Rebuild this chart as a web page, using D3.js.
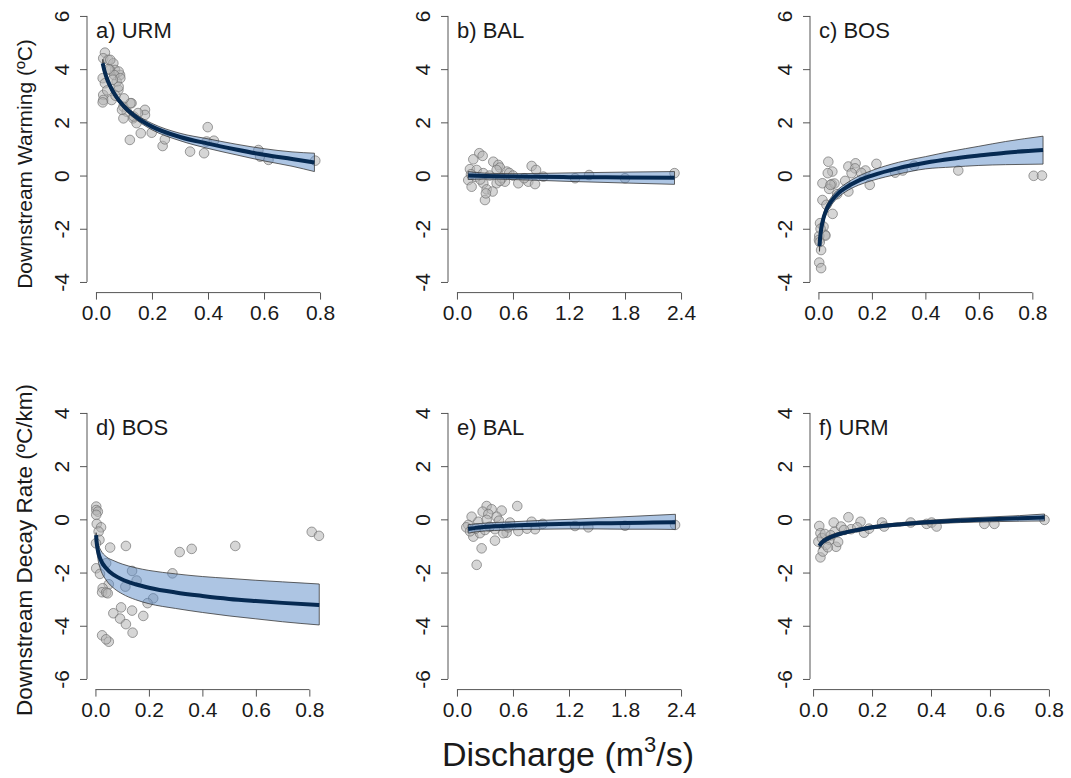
<!DOCTYPE html>
<html><head><meta charset="utf-8">
<script src="https://cdn.jsdelivr.net/npm/d3@7"></script>
<style>
body{margin:0;background:#fff;}
svg{display:block;}
text{font-family:"Liberation Sans",Arial,sans-serif;fill:#1a1a1a;}
</style>
</head><body>
<svg id="chart" width="1071" height="778"></svg>
<script>
// ---------- tick labels ----------
const xTicksSmall = [0, 0.2, 0.4, 0.6, 0.8];
const xTicksBig = [0, 0.6, 1.2, 1.8, 2.4];
const yTicksTop = [-4, -2, 0, 2, 4, 6];
const yTicksBottom = [-6, -4, -2, 0, 2, 4];
const panelLabels = ["a) URM", "b) BAL", "c) BOS", "d) BOS", "e) BAL", "f) URM"];
const yTitles = ["Downstream Warming (ºC)", "Downstream Decay Rate (ºC/km)"];

// ---------- a) URM warming ----------
const aQ = [0.032,0.026,0.044,0.062,0.068,0.05,0.086,0.024,0.032,0.074,0.08,0.026,0.026,0.056,0.024,0.098,0.127,0.11,0.175,0.175,0.098,0.133,0.145,0.121,0.16,0.199,0.238,0.246,0.336,0.386,0.399,0.395,0.421,0.58,0.586,0.616,0.783,0.081,0.065,0.087,0.081,0.051,0.123,0.135,0.093,0.04,0.07,0.15,0.06,0.1,0.045];
const aV = [4.62,4.41,4.35,4.22,3.97,3.97,3.78,3.66,3.47,3.53,3.22,3.03,2.84,2.84,2.75,2.59,2.72,2.40,2.47,2.28,2.15,2.15,1.97,1.34,1.59,1.61,1.11,1.36,0.90,0.84,1.82,1.28,1.31,0.96,0.71,0.59,0.56,3.91,3.78,3.66,3.34,4.35,2.72,2.22,2.47,3.2,3.0,2.35,3.6,2.9,4.0];
const aFitQ = [0.024,0.03,0.04,0.05,0.07,0.1,0.15,0.2,0.3,0.4,0.5,0.6,0.7,0.78];
const aFit  = [4.22,3.95,3.62,3.38,3.00,2.60,2.15,1.84,1.45,1.20,0.98,0.78,0.62,0.49];
const aLo   = [4.07,3.82,3.51,3.28,2.91,2.51,2.05,1.72,1.31,1.02,0.78,0.55,0.35,0.15];
const aHi   = [4.37,4.08,3.73,3.48,3.09,2.69,2.25,1.96,1.59,1.38,1.18,1.01,0.89,0.84];

// ---------- b) BAL warming ----------
const bQ = [0.239,0.275,0.175,0.389,0.443,0.46,0.80,0.847,0.139,0.211,0.425,0.533,0.56,0.282,0.121,0.157,0.282,0.425,0.514,0.657,0.764,0.836,0.318,0.382,0.30,0.31,0.925,0.72,1.265,1.415,1.80,2.33,0.2,0.35,0.48,0.6,0.25,0.46,0.15];
const bV = [0.84,0.74,0.61,0.52,0.40,0.30,0.36,0.21,0.24,0.21,0.21,0.15,0.10,0.09,-0.17,-0.42,-0.29,-0.29,-0.23,-0.29,-0.23,-0.32,-0.52,-0.60,-0.92,-0.67,-0.04,-0.10,-0.10,0.02,-0.10,0.09,-0.05,0.0,-0.10,0.0,-0.15,-0.20,0.05];
const bFitQ = [0.12,0.3,0.6,1.2,1.8,2.33];
const bFit  = [0.0,-0.02,-0.04,-0.06,-0.07,-0.08];
const bLo   = [-0.15,-0.13,-0.15,-0.22,-0.28,-0.33];
const bHi   = [0.15,0.09,0.07,0.10,0.13,0.15];

// ---------- c) BOS warming ----------
const cQ = [0.037,0.052,0.035,0.015,0.050,0.015,0.053,0.006,0.019,0.025,0.003,0.002,0.01,0.003,0.01,0.112,0.139,0.137,0.112,0.124,0.176,0.192,0.217,0.287,0.315,0.358,0.523,0.805,0.836,0.026,0.04,0.03,0.008,0.005,0.06,0.1,0.16,0.07,0.045];
const cV = [0.52,0.15,0.09,-0.29,-0.32,-0.92,-1.44,-1.79,-1.92,-2.23,-2.27,-2.42,-2.80,-3.27,-3.48,0.34,0.46,0.27,-0.60,0.09,0.19,-0.35,0.44,0.11,0.19,0.37,0.19,-0.01,0.0,-2.26,-0.50,-1.10,-2.00,-2.50,-0.30,-0.20,0.10,-0.70,-0.35];
const cFitQ = [0.004,0.006,0.01,0.02,0.03,0.05,0.075,0.1,0.15,0.2,0.3,0.4,0.5,0.6,0.7,0.84];
const cFit  = [-2.65,-2.38,-2.03,-1.56,-1.28,-0.94,-0.66,-0.47,-0.19,0.0,0.28,0.48,0.63,0.75,0.86,0.96];
const cLo   = [-2.85,-2.56,-2.19,-1.71,-1.43,-1.09,-0.81,-0.62,-0.36,-0.19,0.06,0.25,0.32,0.38,0.41,0.43];
const cHi   = [-2.45,-2.20,-1.87,-1.41,-1.13,-0.79,-0.51,-0.32,-0.02,0.19,0.50,0.71,0.92,1.10,1.28,1.48];

// ---------- d) BOS decay ----------
const dQ = [0.003,0.003,0.009,0.003,0.005,0.021,0.012,0.015,0.002,0.055,0.114,0.315,0.36,0.523,0.809,0.836,0.003,0.017,0.04,0.137,0.154,0.112,0.05,0.288,0.027,0.025,0.04,0.046,0.216,0.195,0.096,0.067,0.137,0.179,0.092,0.114,0.139,0.025,0.05,0.04];
const dV = [0.48,0.35,0.29,0.17,-0.17,-0.30,-0.46,-0.77,-0.90,-1.06,-1.00,-1.23,-1.11,-1.00,-0.47,-0.62,-1.84,-2.05,-1.65,-1.94,-2.30,-2.53,-2.44,-2.03,-2.59,-2.74,-2.75,-2.78,-2.97,-3.15,-3.31,-3.53,-3.43,-3.63,-3.73,-3.94,-4.26,-4.36,-4.60,-4.51];
const dFitQ = [0.0025,0.005,0.01,0.02,0.04,0.07,0.1,0.15,0.2,0.3,0.4,0.5,0.6,0.7,0.837];
const dFit  = [-0.59,-0.90,-1.21,-1.53,-1.84,-2.10,-2.26,-2.44,-2.57,-2.75,-2.88,-2.99,-3.07,-3.14,-3.22];
const dHi   = [-0.50,-0.72,-0.93,-1.16,-1.40,-1.56,-1.68,-1.82,-1.92,-2.05,-2.15,-2.22,-2.29,-2.35,-2.43];
const dLo   = [-0.68,-1.10,-1.52,-1.90,-2.28,-2.60,-2.80,-3.02,-3.17,-3.35,-3.50,-3.63,-3.74,-3.85,-3.97];

// ---------- e) BAL decay ----------
const eQ = [0.318,0.275,0.371,0.479,0.646,0.157,0.336,0.425,0.45,0.121,0.229,0.318,0.568,0.80,0.918,0.175,0.246,0.407,0.532,0.657,0.836,0.407,0.264,0.211,1.264,1.407,1.80,2.336,0.496,0.10,0.2,0.35,0.55,0.75,0.14,0.3];
const eV = [0.50,0.29,0.38,0.33,0.50,0.10,0.20,0.10,-0.05,-0.21,-0.09,-0.02,-0.12,-0.09,-0.17,-0.65,-0.52,-0.37,-0.50,-0.44,-0.37,-0.80,-1.09,-1.71,-0.25,-0.30,-0.24,-0.21,-0.52,-0.30,-0.35,-0.28,-0.30,-0.35,-0.45,-0.40];
const eFitQ = [0.12,0.2,0.4,0.6,0.9,1.2,1.5,1.8,2.1,2.34];
const eFit  = [-0.36,-0.32,-0.26,-0.23,-0.19,-0.17,-0.15,-0.14,-0.12,-0.11];
const eHi   = [-0.20,-0.17,-0.12,-0.09,-0.04,0.00,0.05,0.10,0.15,0.19];
const eLo   = [-0.52,-0.47,-0.42,-0.39,-0.37,-0.36,-0.36,-0.37,-0.37,-0.38];

// ---------- f) URM decay ----------
const fQ = [0.021,0.025,0.018,0.025,0.033,0.044,0.056,0.073,0.070,0.095,0.078,0.12,0.129,0.161,0.173,0.234,0.241,0.331,0.385,0.402,0.419,0.581,0.615,0.785,0.03,0.04,0.06,0.085,0.105,0.15,0.19,0.05];
const fV = [-0.25,-0.52,-0.84,-1.43,-1.21,-0.96,-0.77,-0.46,-0.12,-0.27,-1.03,0.08,-0.37,-0.09,-0.50,-0.12,-0.27,-0.12,-0.17,-0.12,-0.27,-0.17,-0.17,-0.02,-0.70,-0.55,-0.60,-0.85,-0.40,-0.30,-0.35,-1.05];
const fFitQ = [0.021,0.03,0.05,0.075,0.1,0.15,0.2,0.3,0.4,0.5,0.6,0.7,0.785];
const fFit  = [-1.00,-0.87,-0.72,-0.60,-0.52,-0.40,-0.30,-0.18,-0.10,-0.04,0.00,0.04,0.07];
const fLo   = [-1.12,-0.97,-0.80,-0.67,-0.58,-0.46,-0.36,-0.24,-0.17,-0.12,-0.09,-0.07,-0.06];
const fHi   = [-0.88,-0.77,-0.64,-0.53,-0.46,-0.34,-0.24,-0.12,-0.03,0.04,0.09,0.14,0.20];

// ---------- layout ----------
const W = 242, H = 287.3;
const colLeft = [87, 448, 810];
const rowTop = [5.3, 402.3];
const panels = [
  {q:aQ, v:aV, fq:aFitQ, fit:aFit, lo:aLo, hi:aHi, xlim:[0,0.8],     xt:xTicksSmall, ylim:[-4,6], yt:yTicksTop,    col:0, row:0},
  {q:bQ, v:bV, fq:bFitQ, fit:bFit, lo:bLo, hi:bHi, xlim:[0,2.4],     xt:xTicksBig,   ylim:[-4,6], yt:yTicksTop,    col:1, row:0},
  {q:cQ, v:cV, fq:cFitQ, fit:cFit, lo:cLo, hi:cHi, xlim:[0.002,0.84],xt:xTicksSmall, ylim:[-4,6], yt:yTicksTop,    col:2, row:0},
  {q:dQ, v:dV, fq:dFitQ, fit:dFit, lo:dLo, hi:dHi, xlim:[0.002,0.84],xt:xTicksSmall, ylim:[-6,4], yt:yTicksBottom, col:0, row:1},
  {q:eQ, v:eV, fq:eFitQ, fit:eFit, lo:eLo, hi:eHi, xlim:[0,2.4],     xt:xTicksBig,   ylim:[-6,4], yt:yTicksBottom, col:1, row:1},
  {q:fQ, v:fV, fq:fFitQ, fit:fFit, lo:fLo, hi:fHi, xlim:[0.02,0.78], xt:xTicksSmall, ylim:[-6,4], yt:yTicksBottom, col:2, row:1}
];

const svg = d3.select("#chart");
const axisColor = "#555";
const tickFont = 21;

panels.forEach((p, i) => {
  const left = colLeft[p.col], top = rowTop[p.row];
  const xpad = (p.xlim[1]-p.xlim[0])*0.04, ypad = (p.ylim[1]-p.ylim[0])*0.04;
  const x = d3.scaleLinear().domain([p.xlim[0]-xpad, p.xlim[1]+xpad]).range([left, left+W]);
  const y = d3.scaleLinear().domain([p.ylim[0]-ypad, p.ylim[1]+ypad]).range([top+H, top]);
  const g = svg.append("g");

  // x axis
  const xa = g.append("g").attr("transform", `translate(0,${top+H})`)
    .call(d3.axisBottom(x).tickValues(p.xt).tickSize(7).tickPadding(5).tickFormat(d3.format(".1f")));
  xa.select(".domain").remove();
  xa.append("line").attr("x1", x(p.xt[0])).attr("x2", x(p.xt[p.xt.length-1])).attr("stroke", axisColor);
  xa.selectAll(".tick line").attr("stroke", axisColor);
  xa.selectAll(".tick text").attr("font-size", tickFont).attr("fill", "#1a1a1a")
    .attr("font-family", '"Liberation Sans", Arial, sans-serif');

  // y axis
  const ya = g.append("g").attr("transform", `translate(${left},0)`)
    .call(d3.axisLeft(y).tickValues(p.yt).tickSize(7).tickFormat(d => String(d)));
  ya.select(".domain").remove();
  ya.append("line").attr("y1", y(p.yt[0])).attr("y2", y(p.yt[p.yt.length-1])).attr("stroke", axisColor);
  ya.selectAll(".tick line").attr("stroke", axisColor);
  ya.selectAll(".tick text").attr("x", null).attr("dy", null)
    .attr("text-anchor", "middle").attr("transform", "translate(-18.5,0) rotate(-90)")
    .attr("font-size", tickFont).attr("fill", "#1a1a1a")
    .attr("font-family", '"Liberation Sans", Arial, sans-serif');

  // points
  const pts = p.q.map((q, k) => ({q, v: p.v[k]}));
  g.append("g").selectAll("circle").data(pts).join("circle")
    .attr("cx", d => x(d.q)).attr("cy", d => y(d.v)).attr("r", 4.8)
    .attr("fill", "rgba(180,180,180,0.55)").attr("stroke", "rgba(110,110,110,0.75)").attr("stroke-width", 0.9);

  // confidence band
  const fitData = p.fq.map((q, k) => ({q, f: p.fit[k], lo: p.lo[k], hi: p.hi[k]}));
  g.append("path").datum(fitData)
    .attr("d", d3.area().x(d => x(d.q)).y0(d => y(d.lo)).y1(d => y(d.hi)).curve(d3.curveMonotoneX))
    .attr("fill", "rgba(92,140,200,0.5)").attr("stroke", "#3a3a3a").attr("stroke-width", 0.8);

  // fitted line
  g.append("path").datum(fitData)
    .attr("d", d3.line().x(d => x(d.q)).y(d => y(d.f)).curve(d3.curveMonotoneX))
    .attr("fill", "none").attr("stroke", "#062a52").attr("stroke-width", 4);

  // panel label
  g.append("text").attr("x", left + 9).attr("y", top + 33).attr("font-size", 22).text(panelLabels[i]);
});

// y titles
svg.append("text").attr("transform", "translate(32,164) rotate(-90)").attr("text-anchor", "middle")
  .attr("font-size", 21).text(yTitles[0]);
svg.append("text").attr("transform", "translate(32,550) rotate(-90)").attr("text-anchor", "middle")
  .attr("font-size", 22.5).text(yTitles[1]);

// x title
const xt = svg.append("text").attr("x", 568).attr("y", 766).attr("text-anchor", "middle").attr("font-size", 34);
xt.append("tspan").text("Discharge (m");
xt.append("tspan").attr("font-size", 22).attr("dy", -14).text("3");
xt.append("tspan").attr("dy", 14).text("/s)");
</script>
</body></html>
